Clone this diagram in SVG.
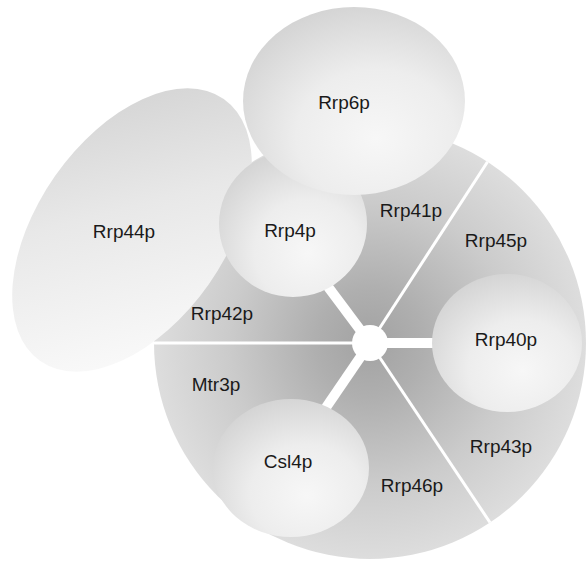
<svg xmlns="http://www.w3.org/2000/svg" width="586" height="563" viewBox="0 0 586 563">
  <style>
    .lbl { font-family: "Liberation Sans", Arial, sans-serif; font-size: 19px; fill: #1a1a1a; text-anchor: middle; }
    .cap { fill: url(#capGrad); }
    .thin { stroke: #ffffff; stroke-width: 3; fill: none; }
    .thick { stroke: #ffffff; stroke-width: 10; fill: none; }
  </style>
  <defs>
    <radialGradient id="ringGrad" gradientUnits="userSpaceOnUse" cx="370" cy="343" r="216">
      <stop offset="0" stop-color="#a2a2a2"/>
      <stop offset="0.25" stop-color="#afafaf"/>
      <stop offset="0.65" stop-color="#cbcbcb"/>
      <stop offset="1" stop-color="#dddddd"/>
    </radialGradient>
    <radialGradient id="capGrad" cx="0.6" cy="0.68" r="0.72" fx="0.6" fy="0.7">
      <stop offset="0" stop-color="#f7f7f7"/>
      <stop offset="0.5" stop-color="#ededed"/>
      <stop offset="1" stop-color="#d3d3d3"/>
    </radialGradient>
    <linearGradient id="rrp44Grad" gradientUnits="userSpaceOnUse" x1="245" y1="110" x2="40" y2="350">
      <stop offset="0" stop-color="#d0d0d0"/>
      <stop offset="0.45" stop-color="#e8e8e8"/>
      <stop offset="1" stop-color="#fbfbfb"/>
    </linearGradient>
    <clipPath id="ringClip">
      <circle cx="370" cy="343" r="216"/>
    </clipPath>
  </defs>

  <rect x="0" y="0" width="586" height="563" fill="#ffffff"/>

  <g id="core-ring">
    <circle cx="370" cy="343" r="216" fill="url(#ringGrad)"/>
  </g>

  <g id="connectors" clip-path="url(#ringClip)">
    <line class="thin" x1="150" y1="343" x2="370" y2="343"/>
    <line class="thin" x1="370" y1="343" x2="490" y2="158"/>
    <line class="thin" x1="370" y1="343" x2="493" y2="527"/>
    <line class="thick" x1="370" y1="343" x2="308" y2="260"/>
    <line class="thick" x1="370" y1="343" x2="312" y2="428"/>
    <line class="thick" x1="370" y1="343" x2="455" y2="343"/>
    <circle cx="370" cy="343" r="18" fill="#ffffff"/>
  </g>

  <g id="Rrp41p"><text class="lbl" x="411" y="217">Rrp41p</text></g>
  <g id="Rrp45p"><text class="lbl" x="496" y="247">Rrp45p</text></g>
  <g id="Rrp42p"><text class="lbl" x="222" y="320">Rrp42p</text></g>
  <g id="Mtr3p"><text class="lbl" x="216" y="391">Mtr3p</text></g>
  <g id="Rrp43p"><text class="lbl" x="501" y="453">Rrp43p</text></g>
  <g id="Rrp46p"><text class="lbl" x="412" y="492">Rrp46p</text></g>

  <g id="Rrp44p">
    <ellipse cx="132" cy="230" rx="160" ry="94" transform="rotate(-55 132 230)" fill="url(#rrp44Grad)"/>
    <text class="lbl" x="124" y="238">Rrp44p</text>
  </g>

  <g id="Rrp4p">
    <ellipse class="cap" cx="293" cy="224" rx="74" ry="73"/>
    <text class="lbl" x="290" y="237">Rrp4p</text>
  </g>

  <g id="Rrp6p">
    <ellipse class="cap" cx="354" cy="101" rx="111" ry="94"/>
    <text class="lbl" x="344" y="109">Rrp6p</text>
  </g>

  <g id="Rrp40p">
    <ellipse class="cap" cx="507" cy="343" rx="75" ry="69"/>
    <text class="lbl" x="506" y="346">Rrp40p</text>
  </g>

  <g id="Csl4p">
    <ellipse class="cap" cx="291" cy="468" rx="78" ry="69"/>
    <text class="lbl" x="288" y="468">Csl4p</text>
  </g>
</svg>
